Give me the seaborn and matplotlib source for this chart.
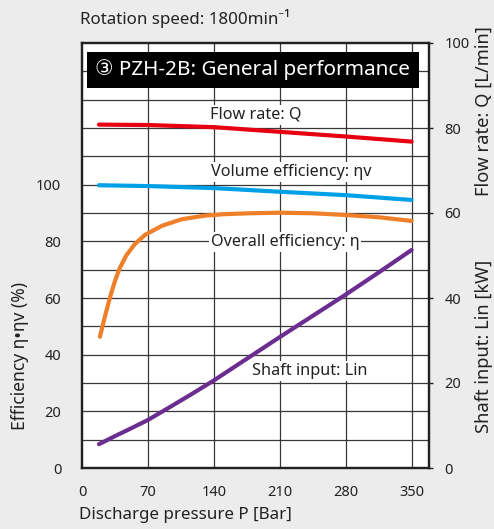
import numpy as np
import pandas as pd
import matplotlib
matplotlib.use("Agg")
import matplotlib.pyplot as plt
from matplotlib.patches import Rectangle
import seaborn as sns

# =========================================================
# 0. STYLE
# =========================================================

sns.set_style("white")
plt.rcParams["font.family"] = ["Noto Sans", "DejaVu Sans", "Noto Sans CJK JP"]

BG = "#ececec"
GRID = "#383838"
TXT = "#222222"

c_flow = "#e60012"
c_vol = "#00a0e6"
c_over = "#f07f2a"
c_shaft = "#6c2d91"

# =========================================================
# 1. DATA
# =========================================================

# flow rate Q [L/min] -> right axis
p_flow = [18, 70, 140, 210, 280, 350]
flow_q = [80.8, 80.7, 80.2, 79.1, 78.0, 76.8]

# volume efficiency [%] -> left axis
p_vol = [18, 70, 140, 210, 280, 350]
vol_eff = [99.8, 99.5, 98.8, 97.5, 96.3, 94.6]

# overall efficiency [%] -> left axis
p_over = [19, 25, 30, 35, 40, 47, 56, 67, 85, 106, 131, 152, 178, 210, 245, 280, 315, 350]
over_eff = [46.3, 54.3, 60.5, 66.0, 70.5, 75.0, 79.0, 82.3, 85.5, 87.8, 89.1, 89.6,
            89.9, 90.1, 89.9, 89.3, 88.5, 87.2]

# shaft input Lin [kW] -> right axis
p_shaft = [18, 35, 50, 70, 90, 115, 140, 175, 210, 245, 280, 315, 350]
shaft_kw = [5.6, 7.5, 9.1, 11.3, 13.9, 17.2, 20.6, 25.7, 30.8, 35.8, 40.8, 46.0, 51.3]

x_ticks = [0, 70, 140, 210, 280, 350]
left_ticks = [0, 20, 40, 60, 80, 100]
right_ticks = [0, 20, 40, 60, 80, 100]

df_flow = pd.DataFrame({"P": p_flow, "v": flow_q})
df_vol = pd.DataFrame({"P": p_vol, "v": vol_eff})
df_over = pd.DataFrame({"P": p_over, "v": over_eff})
df_shaft = pd.DataFrame({"P": p_shaft, "v": shaft_kw})

# =========================================================
# 2. FIGURE
# =========================================================

fig = plt.figure(figsize=(4.94, 5.29), dpi=100, facecolor=BG)
ax = fig.add_axes([82 / 494, 1 - 468 / 529, 347 / 494, 425 / 529])
ax.set_facecolor("white")
ax2 = ax.twinx()

ax.set_xlim(0, 368.5)
ax.set_ylim(0, 150)
ax2.set_ylim(0, 100)

# grid
grid_y = np.arange(0, 151, 10)
ax.set_yticks(grid_y)
ax.set_yticklabels([str(v) if v in left_ticks else "" for v in grid_y])
for xv in x_ticks[1:]:
    ax.axvline(xv, color=GRID, lw=0.9, zorder=0)
for yv in grid_y[1:-1]:
    ax.axhline(yv, color=GRID, lw=0.9, zorder=0)

ax2.set_yticks(right_ticks)
ax2.tick_params(axis="y", length=3, width=1, pad=8, labelsize=10.5, colors=TXT)

for a in (ax, ax2):
    for s in a.spines.values():
        s.set_visible(True)
        s.set_color(TXT)
        s.set_linewidth(1.6)

# curves
line_kw = dict(lw=3.0, zorder=3, solid_capstyle="round", solid_joinstyle="round")
sns.lineplot(data=df_vol, x="P", y="v", ax=ax, color=c_vol, **line_kw)
sns.lineplot(data=df_over, x="P", y="v", ax=ax, color=c_over, **line_kw)
sns.lineplot(data=df_flow, x="P", y="v", ax=ax2, color=c_flow, **line_kw)
sns.lineplot(data=df_shaft, x="P", y="v", ax=ax2, color=c_shaft, **line_kw)
for a in (ax, ax2):
    a.set_xlabel("")
    a.set_ylabel("")
ax.set_xticks(x_ticks)
ax.set_xticklabels([str(v) for v in x_ticks])
ax.tick_params(axis="y", length=0, pad=15, labelsize=10.5, colors=TXT)
ax.tick_params(axis="x", length=0, pad=12, labelsize=10.5, colors=TXT)

# curve labels
lab_kw = dict(ha="center", va="center", fontsize=11.7, color=TXT, zorder=5,
              bbox=dict(facecolor="white", edgecolor="none", pad=1.2))
ax.text(184, 124.6, "Flow rate: Q", **lab_kw)
ax.text(222, 104.5, "Volume efficiency: ηv", **lab_kw)
ax.text(216, 79.8, "Overall efficiency: η", **lab_kw)
ax.text(242, 34.2, "Shaft input: Lin", **lab_kw)

# title box
ax2.add_patch(Rectangle((5 / 347, (468 - 88) / 425), 332 / 347, 36 / 425,
                        transform=ax2.transAxes, facecolor="black", edgecolor="none",
                        zorder=6, clip_on=False))
ax2.text((252 - 82) / 347, (468 - 70) / 425, "③ PZH-2B: General performance",
         transform=ax2.transAxes, ha="center", va="center", color="white",
         fontsize=14.9, zorder=7)

# outer texts
fig.text(80 / 494, 1 - 18 / 529, "Rotation speed: 1800min⁻¹", ha="left", va="center",
         fontsize=12.2, color=TXT)
fig.text(185 / 494, 1 - 515 / 529, "Discharge pressure P [Bar]", ha="center", va="center",
         fontsize=12.2, color=TXT)
fig.text(20 / 494, 1 - 356 / 529, "Efficiency η•ηv (%)", ha="center", va="center",
         rotation=90, fontsize=12.6, color=TXT)
fig.text(484 / 494, 1 - 111 / 529, "Flow rate: Q [L/min]", ha="center", va="center",
         rotation=90, fontsize=13.2, color=TXT)
fig.text(484 / 494, 1 - 346 / 529, "Shaft input: Lin [kW]", ha="center", va="center",
         rotation=90, fontsize=13.2, color=TXT)

fig.savefig("out.png", dpi=100, facecolor=BG)
